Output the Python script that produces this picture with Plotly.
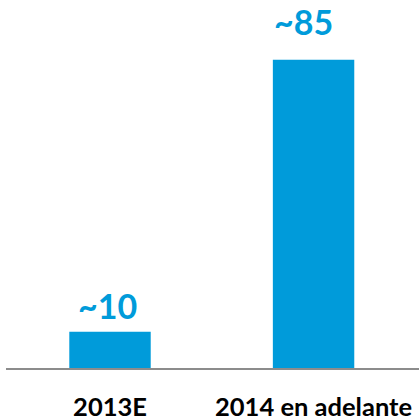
import plotly.graph_objects as go

categories = ["2013E", "2014 en adelante"]
values = [10, 85]
labels = ["~10", "~85"]

blue = "#009BDA"
fig = go.Figure(go.Bar(x=categories, y=values, marker=dict(color=blue, line=dict(width=0)), width=0.4,
                       hoverinfo="skip"))

yshifts = [26, 38]
xshifts = [-2.5, -10.5]
for c, v, t, ys, xs in zip(categories, values, labels, yshifts, xshifts):
    fig.add_annotation(x=c, y=v, text=t, showarrow=False, yshift=ys, xshift=xs,
                       font=dict(family="Lato", size=34, color=blue, weight="bold"))

fig.update_layout(
    width=419, height=419, margin=dict(l=6, r=0, t=0, b=51),
    plot_bgcolor="white", paper_bgcolor="white", showlegend=False,
    xaxis=dict(range=[-0.511, 1.518], showline=True, linecolor="#8C8C8C", linewidth=2,
               ticks="", ticklabelstandoff=15, automargin=False,
               tickfont=dict(family="Lato", size=25.5, color="black", weight="bold")),
    yaxis=dict(range=[0, 101.5], visible=False, showgrid=False, zeroline=False),
)
fig.write_html("out.html", config={"displayModeBar": False},
               post_script="document.body.style.margin='0';")
